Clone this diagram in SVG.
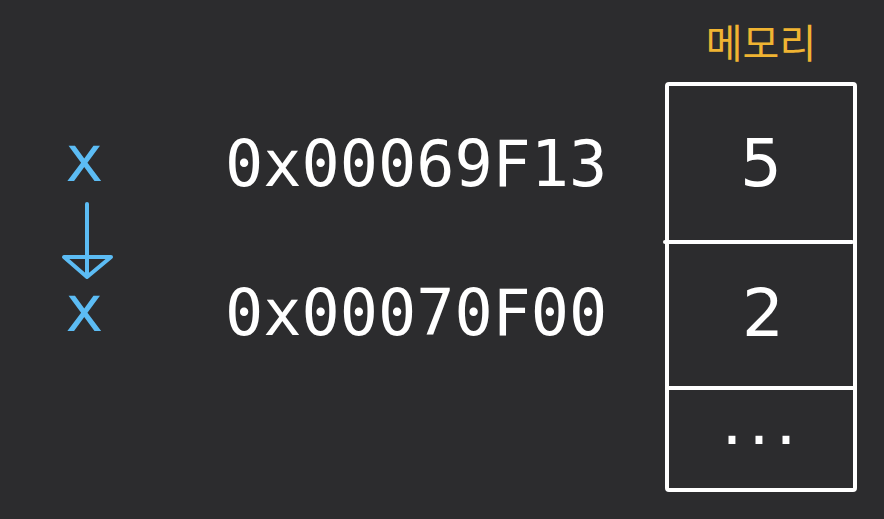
<svg xmlns="http://www.w3.org/2000/svg" width="884" height="519" viewBox="0 0 884 519">
<style>
.addr{font-family:"DejaVu Sans Mono","Liberation Mono",monospace;font-size:63.5px;fill:#ffffff}
.var{font-family:"DejaVu Sans Mono","Liberation Mono",monospace;font-size:64px;fill:#5cbcf4}
.val{font-family:"DejaVu Sans","Liberation Sans",sans-serif;font-size:66px;fill:#ffffff;text-anchor:middle}
.box{fill:none;stroke:#ffffff;stroke-width:4;stroke-linecap:round;stroke-linejoin:round}
.conn{fill:none;stroke:#5cbcf4;stroke-width:4;stroke-linecap:round;stroke-linejoin:round}
</style>
<rect width="884" height="519" fill="#2c2c2e"/>
<g id="memory">
<text x="761" y="58" text-anchor="middle" font-family="'Noto Sans CJK KR',sans-serif" font-size="40" fill="#f0b432">메모리</text>
<rect class="box" x="667" y="84" width="188" height="406" rx="2"/>
<line class="box" x1="665" y1="242" x2="852" y2="242"/>
<line class="box" x1="667" y1="388" x2="854" y2="388"/>
<text class="val" x="761" y="186">5</text>
<text class="val" x="763" y="336">2</text>
<text class="val" x="762" y="444" letter-spacing="6">...</text>
</g>
<g id="var-x1"><text class="var" x="65" y="181">x</text></g>
<g id="var-x2"><text class="var" x="65" y="331">x</text></g>
<g id="addr1"><text class="addr" x="225" y="186">0x00069F13</text></g>
<g id="addr2"><text class="addr" x="225" y="335">0x00070F00</text></g>
<g id="connectors">
<line class="conn" x1="87" y1="204" x2="87" y2="276"/>
<polygon class="conn" points="64,257 111,257 87,277"/>
</g>
</svg>
